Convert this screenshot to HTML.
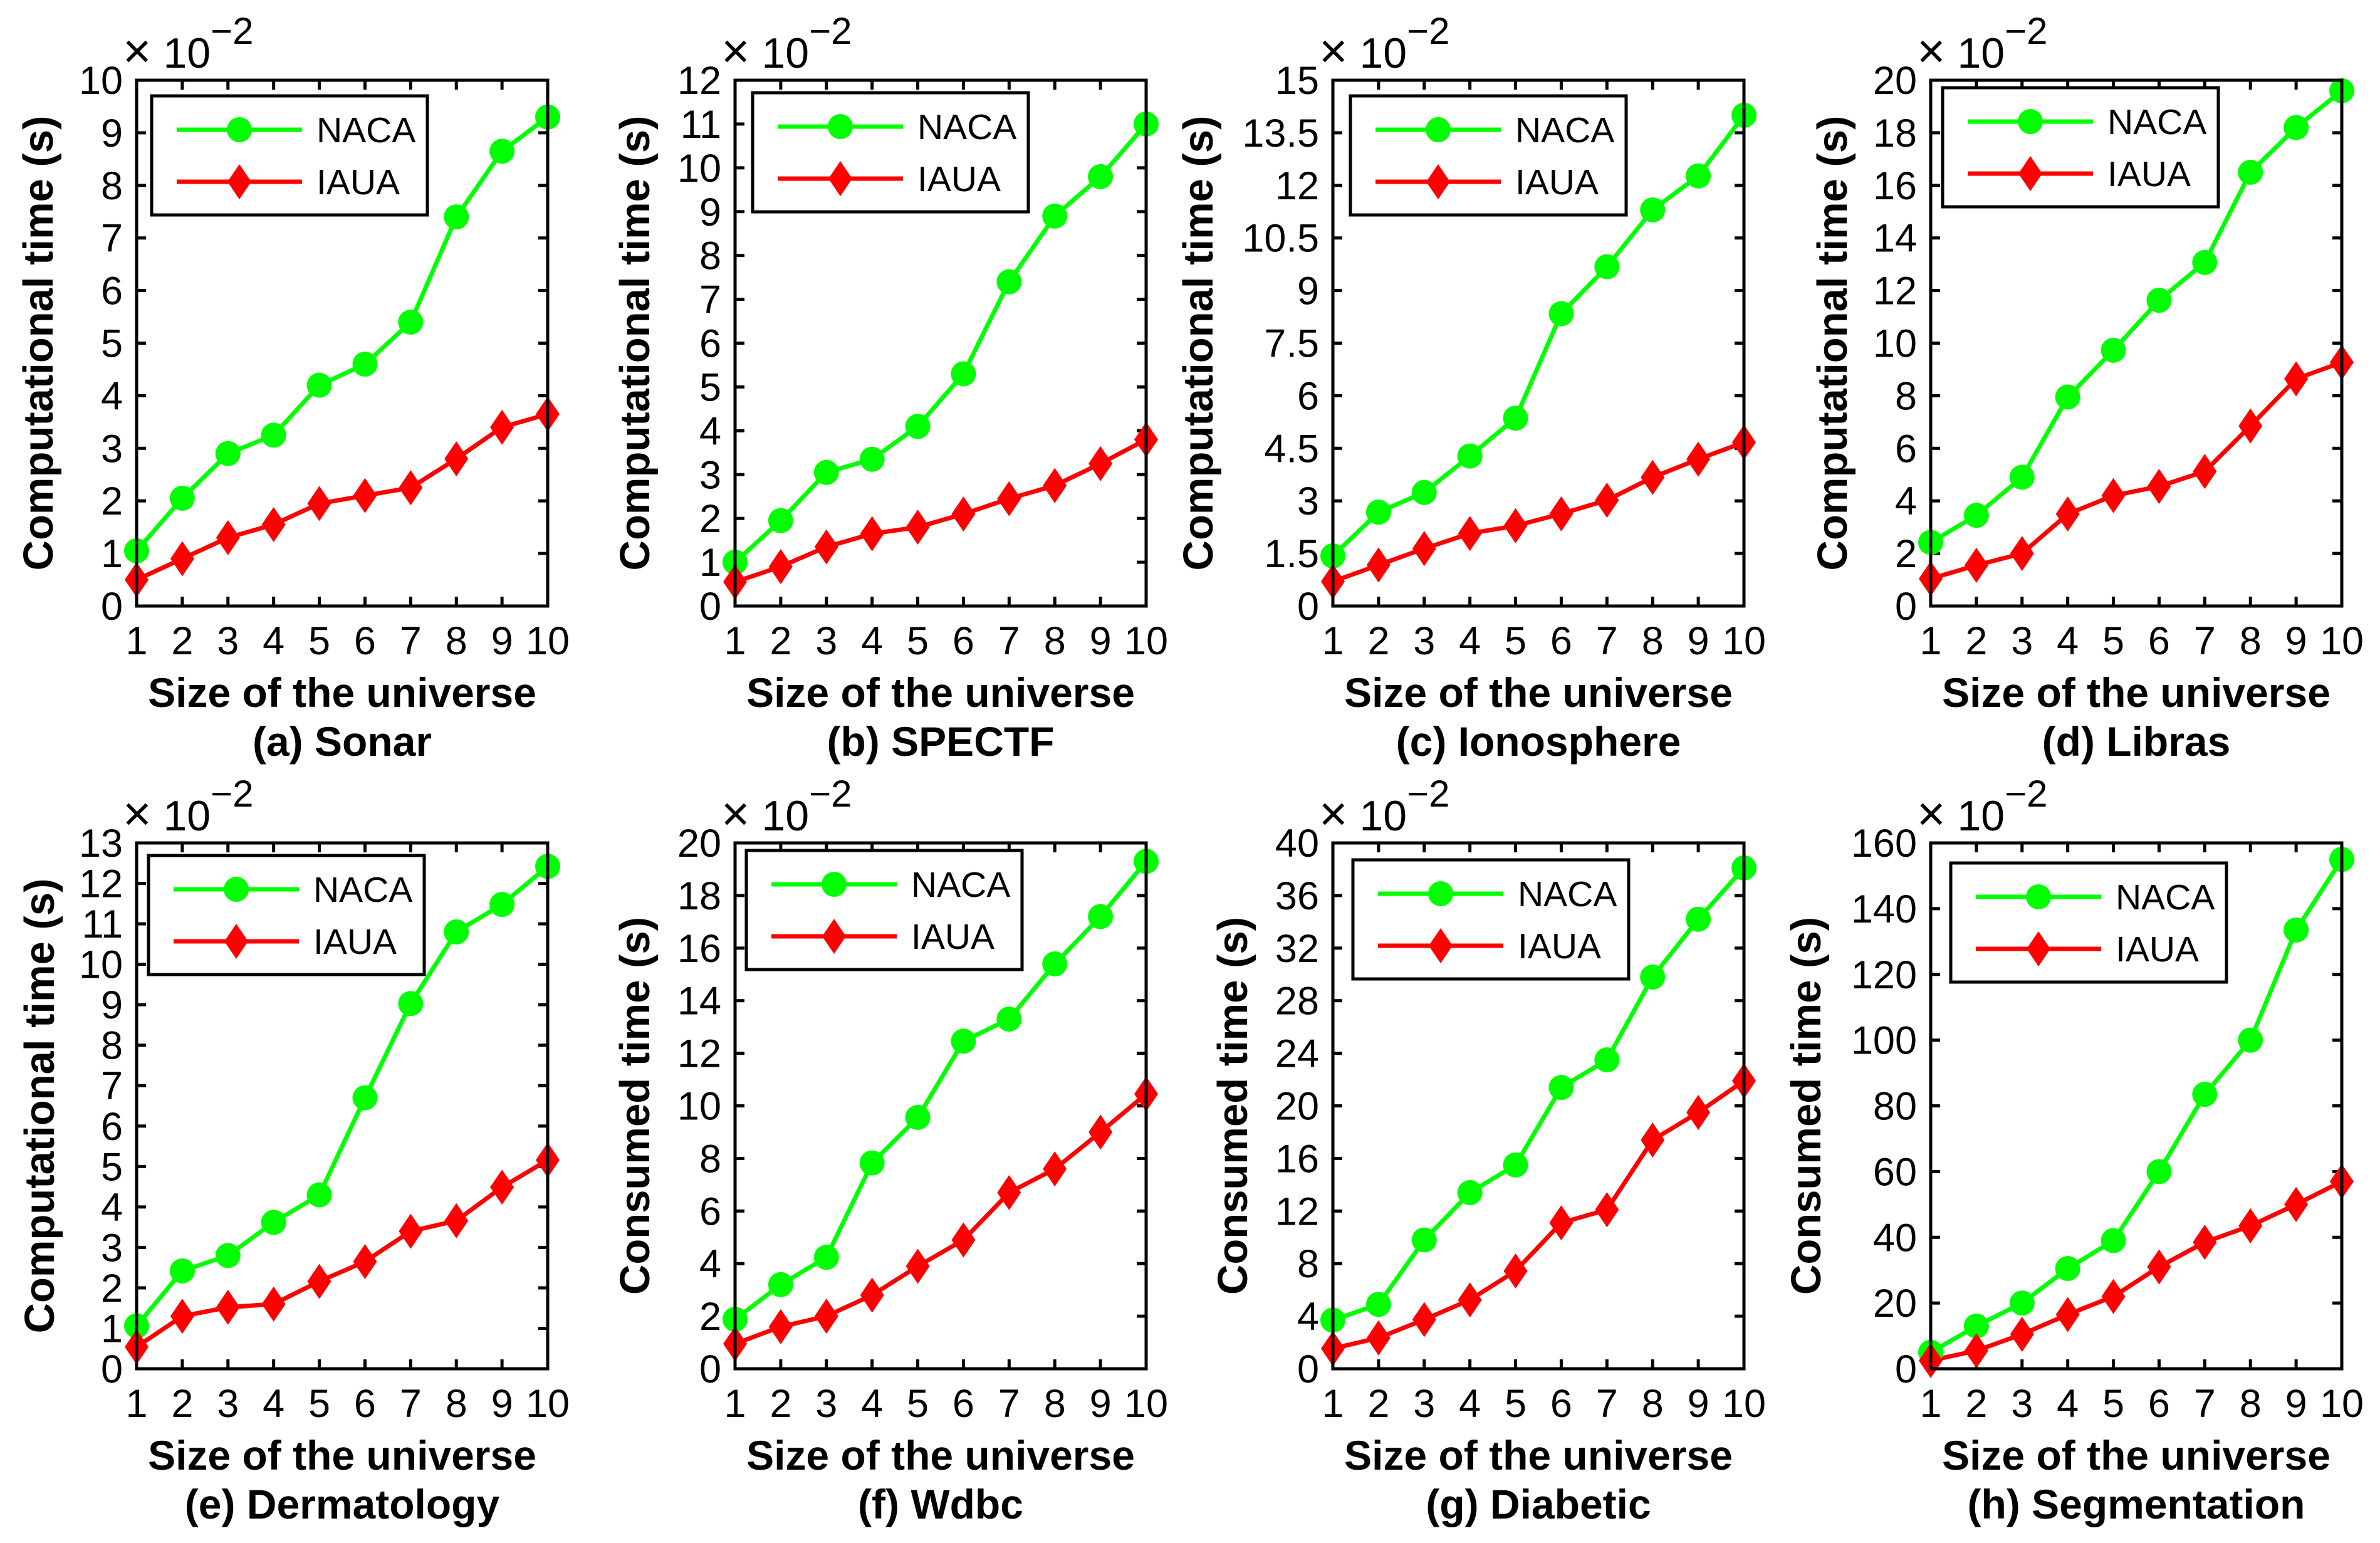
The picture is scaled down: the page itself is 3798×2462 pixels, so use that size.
<!DOCTYPE html>
<html><head><meta charset="utf-8"><style>
html,body{margin:0;padding:0;background:#fff;}
svg{display:block;}
text{font-family:"Liberation Sans",Arial,sans-serif;fill:#000;}
</style></head><body>
<svg id="fig" width="3798" height="2462" viewBox="0 0 3798 2462" xmlns="http://www.w3.org/2000/svg"></svg>
<script>
const xCats = [1,2,3,4,5,6,7,8,9,10];
const nacaA = [1.05,2.05,2.9,3.25,4.2,4.6,5.4,7.4,8.65,9.3];
const iauaA = [0.5,0.9,1.3,1.55,1.95,2.1,2.25,2.8,3.4,3.65];
const nacaB = [1.0,1.95,3.05,3.35,4.1,5.3,7.4,8.9,9.8,11.0];
const iauaB = [0.55,0.9,1.35,1.65,1.8,2.1,2.45,2.75,3.25,3.8];
const nacaC = [1.43,2.68,3.24,4.28,5.36,8.34,9.68,11.3,12.27,14.0];
const iauaC = [0.7,1.17,1.64,2.07,2.29,2.63,3.02,3.67,4.19,4.67];
const nacaD = [2.42,3.45,4.9,7.95,9.73,11.63,13.07,16.5,18.2,19.6];
const iauaD = [1.04,1.55,2.0,3.5,4.2,4.55,5.12,6.85,8.64,9.27];
const nacaE = [1.06,2.42,2.8,3.62,4.3,6.7,9.03,10.8,11.48,12.42];
const iauaE = [0.54,1.3,1.52,1.6,2.16,2.65,3.4,3.66,4.49,5.16];
const nacaF = [1.88,3.2,4.24,7.83,9.56,12.46,13.3,15.4,17.2,19.3];
const iauaF = [0.95,1.6,2.0,2.8,3.9,4.9,6.7,7.6,9.0,10.45];
const nacaG = [3.7,4.9,9.8,13.4,15.5,21.4,23.5,29.8,34.2,38.1];
const iauaG = [1.54,2.35,3.74,5.24,7.44,11.1,12.1,17.4,19.5,21.9];
const nacaH = [5,13,20,30.5,39,60,83.5,100,133.5,155];
const iauaH = [2.5,5.5,10.5,16.5,22,31,38.5,43.5,50,57];
const ticksA = [0,1,2,3,4,5,6,7,8,9,10];
const ticksB = [0,1,2,3,4,5,6,7,8,9,10,11,12];
const ticksC = [0,1.5,3,4.5,6,7.5,9,10.5,12,13.5,15];
const ticksD = [0,2,4,6,8,10,12,14,16,18,20];
const ticksE = [0,1,2,3,4,5,6,7,8,9,10,11,12,13];
const ticksF = [0,2,4,6,8,10,12,14,16,18,20];
const ticksG = [0,4,8,12,16,20,24,28,32,36,40];
const ticksH = [0,20,40,60,80,100,120,140,160];

const NS="http://www.w3.org/2000/svg";
const svg=document.getElementById('fig');
function mk(tag,attrs,parent){const e=document.createElementNS(NS,tag);for(const k in attrs)e.setAttribute(k,attrs[k]);(parent||svg).appendChild(e);return e;}

const panels=[
 {id:'a',cap:'(a) Sonar',yl:'Computational time (s)',n:nacaA,i:iauaA,t:ticksA,L:218,T:128,ylx:-157,lx:24,ly:25},
 {id:'b',cap:'(b) SPECTF',yl:'Computational time (s)',n:nacaB,i:iauaB,t:ticksB,L:1173,T:128,ylx:-160,lx:28,ly:20},
 {id:'c',cap:'(c) Ionosphere',yl:'Computational time (s)',n:nacaC,i:iauaC,t:ticksC,L:2127,T:128,ylx:-215,lx:28,ly:25},
 {id:'d',cap:'(d) Libras',yl:'Computational time (s)',n:nacaD,i:iauaD,t:ticksD,L:3081,T:128,ylx:-157,lx:19,ly:12},
 {id:'e',cap:'(e) Dermatology',yl:'Computational time (s)',n:nacaE,i:iauaE,t:ticksE,L:218,T:1345,ylx:-155,lx:19,ly:20},
 {id:'f',cap:'(f) Wdbc',yl:'Consumed time (s)',n:nacaF,i:iauaF,t:ticksF,L:1173,T:1345,ylx:-160,lx:18,ly:12},
 {id:'g',cap:'(g) Diabetic',yl:'Consumed time (s)',n:nacaG,i:iauaG,t:ticksG,L:2127,T:1345,ylx:-160,lx:32,ly:27},
 {id:'h',cap:'(h) Segmentation',yl:'Consumed time (s)',n:nacaH,i:iauaH,t:ticksH,L:3081,T:1345,ylx:-199,lx:32,ly:32}
];
const W=656,H=839;
const GREEN='#00ff00',RED='#ff0000';
function diamond(g,cx,cy,name){
  const p=mk('polygon',{points:`${cx},${cy-28} ${cx+19},${cy} ${cx},${cy+28} ${cx-19},${cy}`,fill:RED},g);
  
  
}
panels.forEach(p=>{
  const g=mk('g',{});
  
  
  const ymax=p.t[p.t.length-1];
  const xs=v=>p.L+(v-1)/9*W;
  const ys=v=>p.T+H-v/ymax*H;
  const B=p.T+H,R=p.L+W;
  xCats.forEach(v=>{
    const x=xs(v);
    mk('line',{x1:x,y1:B,x2:x,y2:B-15,stroke:'#000','stroke-width':5},g);
    mk('line',{x1:x,y1:p.T,x2:x,y2:p.T+15,stroke:'#000','stroke-width':5},g);
    const t=mk('text',{x:x,y:B+77,'font-size':63,'text-anchor':'middle'},g);
    t.textContent=v;
    
    
  });
  p.t.forEach(v=>{
    const y=ys(v);
    mk('line',{x1:p.L,y1:y,x2:p.L+15,y2:y,stroke:'#000','stroke-width':5},g);
    mk('line',{x1:R,y1:y,x2:R-15,y2:y,stroke:'#000','stroke-width':5},g);
    const t=mk('text',{x:p.L-22,y:y+22,'font-size':63,'text-anchor':'end'},g);
    t.textContent=v;
    
    
  });
  const line=(arr,col,nm)=>{
    const pl=mk('polyline',{points:arr.map((v,k)=>xs(xCats[k])+','+ys(v)).join(' '),fill:'none',stroke:col,'stroke-width':7,'stroke-linejoin':'round'},g);
    
    
  };
  line(p.n,GREEN,'naca-line');
  line(p.i,RED,'iaua-line');
  p.n.forEach((v,k)=>{
    const c=mk('ellipse',{cx:xs(xCats[k]),cy:ys(v),rx:20,ry:20,fill:GREEN},g);
    
    
  });
  p.i.forEach((v,k)=>diamond(g,xs(xCats[k]),ys(v),'iaua-point'));
  const box=mk('rect',{x:p.L,y:p.T,width:W,height:H,fill:'none',stroke:'#000','stroke-width':5},g);
  
  
  const ex=mk('text',{x:p.L-22,y:p.T-20,'font-size':68},g);
  ex.innerHTML='<tspan font-size="78">×</tspan> 10<tspan dy="-38" font-size="60">−2</tspan>';
  
  
  const lg=mk('g',{},g);
  
  
  const lx=p.L+p.lx,ly=p.T+p.ly;
  mk('rect',{x:lx,y:ly,width:440,height:190,fill:'#fff',stroke:'#000','stroke-width':5},lg);
  mk('line',{x1:lx+40,y1:ly+54,x2:lx+240,y2:ly+54,stroke:GREEN,'stroke-width':7},lg);
  mk('ellipse',{cx:lx+140,cy:ly+54,rx:20,ry:20,fill:GREEN},lg);
  mk('line',{x1:lx+40,y1:ly+137,x2:lx+240,y2:ly+137,stroke:RED,'stroke-width':7},lg);
  diamond(lg,lx+140,ly+137,'legend-iaua-marker');
  const t1=mk('text',{x:lx+263,y:ly+74,'font-size':57},lg);t1.textContent='NACA';
  
  
  const t2=mk('text',{x:lx+263,y:ly+157,'font-size':57},lg);t2.textContent='IAUA';
  
  
  const xl=mk('text',{x:p.L+W/2,y:B+161,'font-size':66,'font-weight':'bold','text-anchor':'middle'},g);
  xl.textContent='Size of the universe';
  
  
  const cp=mk('text',{x:p.L+W/2,y:B+239,'font-size':66,'font-weight':'bold','text-anchor':'middle'},g);
  cp.textContent=p.cap;
  
  
  const cx=p.L+p.ylx+23,cy=p.T+H/2;
  const yl=mk('text',{x:cx,y:cy,'font-size':67,'font-weight':'bold','text-anchor':'middle',transform:`rotate(-90 ${cx} ${cy})`},g);
  yl.textContent=p.yl;
  
  
});
</script>
</body></html>
